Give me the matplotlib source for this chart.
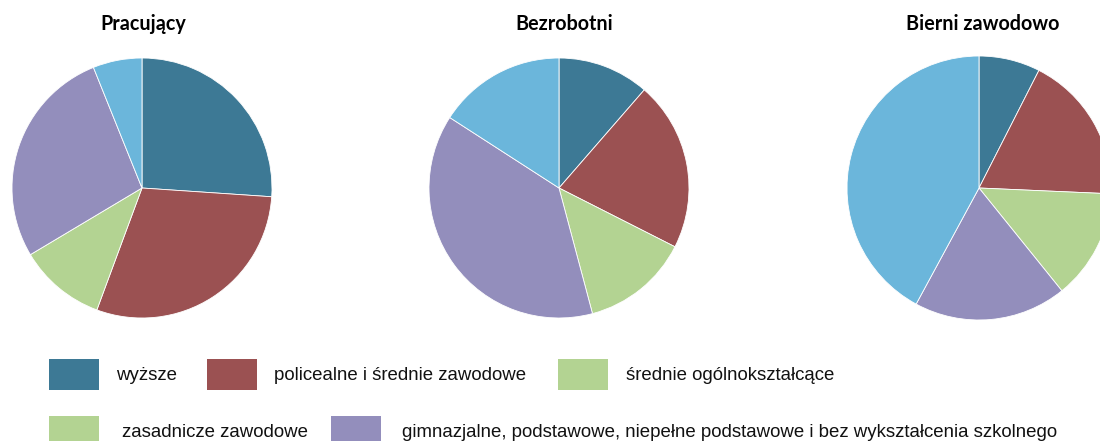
import matplotlib
matplotlib.use("Agg")
from matplotlib import pyplot as plt
from matplotlib.patches import Rectangle

# dane (udzialy w %)
titles = ["Pracujący", "Bezrobotni", "Bierni zawodowo"]
pracujacy = [26.1, 29.6, 10.8, 27.5, 6.1]
bezrobotni = [11.4, 21.1, 13.4, 38.3, 15.9]
bierni = [7.5, 18.2, 13.5, 18.7, 42.1]
slice_colors = ["#3D7995", "#9B5152", "#B3D392", "#938EBC", "#6BB6DB"]

legend_labels = [
    "wyższe",
    "policealne i średnie zawodowe",
    "średnie ogólnokształcące",
    "zasadnicze zawodowe",
    "gimnazjalne, podstawowe, niepełne podstawowe i bez wykształcenia szkolnego",
]
legend_colors = ["#3D7995", "#9B5152", "#B3D392", "#B3D392", "#938EBC"]


def main():
    W, H = 1100, 441
    fig = plt.figure(figsize=(W / 100, H / 100), dpi=100)

    # polozenie kol w pikselach: (srodek x, srodek y, promien, srodek tytulu)
    pies = [(142, 188, 130, 143), (559, 188, 130, 564), (979, 188, 132, 983)]
    data = [pracujacy, bezrobotni, bierni]

    for (cx, cy, r, tx), vals, title in zip(pies, data, titles):
        ax = fig.add_axes([(cx - r) / W, (H - cy - r) / H, 2 * r / W, 2 * r / H])
        ax.pie(vals, colors=slice_colors, startangle=90, counterclock=False,
               radius=1, wedgeprops=dict(edgecolor="white", linewidth=0.6))
        ax.set_xlim(-1, 1)
        ax.set_ylim(-1, 1)
        ax.set_aspect("equal")
        ax.axis("off")
        fig.text(tx / W, 1 - 30 / H, title, ha="center", va="baseline",
                 fontsize=14.2, fontweight="bold", family="Lato")

    # legenda rysowana recznie
    rows = [(359, 380), (416, 437)]
    slots = [(49, 116, 0), (207, 274, 0), (558, 626, 0), (49, 122, 1), (331, 402, 1)]
    for (sx, tx, row), label, color in zip(slots, legend_labels, legend_colors):
        top, base = rows[row]
        fig.patches.append(Rectangle((sx / W, 1 - (top + 31) / H), 50 / W, 31 / H,
                                     transform=fig.transFigure, facecolor=color,
                                     edgecolor="none"))
        fig.text(tx / W, 1 - base / H, label, ha="left", va="baseline",
                 fontsize=13.45, family="Liberation Sans", color="#111111")

    fig.savefig("out.png", dpi=100)
    return 0


if __name__ == "__main__":
    raise SystemExit(main())
